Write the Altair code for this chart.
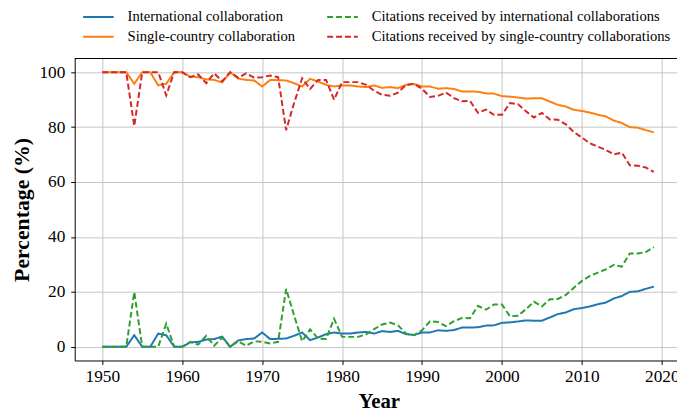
import altair as alt
import pandas as pd

years = list(range(1950, 2020))

international = [0, 0, 0, 0, 4.2, 0, 0, 4.8, 4.2, 0,
                 0, 1.6, 1.8, 2.6, 2.8, 3.7, 0, 2.3, 2.8, 3.0,
                 5.2, 2.8, 2.9, 3.0, 4.0, 5.2, 2.4, 3.4, 4.6, 5.2,
                 4.8, 4.8, 5.2, 5.4, 4.8, 5.7, 5.4, 5.8, 4.6, 4.3,
                 5.2, 5.2, 6.0, 5.8, 6.1, 7.0, 7.0, 7.1, 7.7, 7.8,
                 8.7, 8.9, 9.2, 9.6, 9.5, 9.5, 10.7, 11.9, 12.5, 13.7,
                 14.1, 14.7, 15.5, 16.1, 17.6, 18.5, 20.0, 20.2, 21.1, 21.9]

single = [100, 100, 100, 100, 95.8, 100, 100, 95.2, 95.8, 100,
          100, 98.4, 98.2, 97.4, 97.2, 96.3, 100, 97.7, 97.2, 97.0,
          94.8, 97.2, 97.1, 97.0, 96.0, 94.8, 97.6, 96.6, 95.4, 94.8,
          95.2, 95.2, 94.8, 94.6, 95.2, 94.3, 94.6, 94.2, 95.4, 95.7,
          94.8, 94.8, 94.0, 94.2, 93.9, 93.0, 93.0, 92.9, 92.3, 92.2,
          91.3, 91.1, 90.8, 90.4, 90.5, 90.5, 89.3, 88.1, 87.5, 86.3,
          85.9, 85.3, 84.5, 83.9, 82.4, 81.5, 80.0, 79.8, 78.9, 78.1]

cit_international = [0, 0, 0, 0, 19.9, 0, 0, 0, 8.4, 0,
                     0, 1.8, 0.8, 4.0, 0.4, 3.3, 0, 2.0, 0.4, 2.0,
                     1.8, 1.2, 1.8, 21.1, 11.4, 2.0, 6.3, 3.0, 2.8, 10.2,
                     3.6, 3.6, 3.6, 4.5, 6.4, 8.1, 8.8, 7.8, 4.8, 4.2,
                     6.0, 9.3, 9.0, 7.5, 9.3, 10.5, 10.4, 14.9, 13.5, 15.4,
                     15.4, 11.1, 11.3, 13.7, 16.4, 14.7, 17.3, 17.4, 18.9, 21.5,
                     24.0, 25.8, 27.0, 28.2, 29.8, 29.2, 34.0, 34.0, 34.5, 36.3]

cit_single = [100, 100, 100, 100, 80.4, 100, 100, 100, 91.6, 100,
              100, 98.2, 99.2, 96.0, 99.6, 96.7, 100, 98.0, 99.6, 98.0,
              98.2, 98.8, 98.2, 78.9, 88.8, 97.8, 93.9, 97.2, 97.2, 90.0,
              96.4, 96.4, 96.4, 95.4, 93.3, 91.8, 91.4, 92.6, 95.4, 95.8,
              94.0, 91.0, 91.4, 92.6, 90.6, 89.4, 89.6, 85.2, 86.4, 84.5,
              84.5, 88.8, 88.4, 85.8, 83.5, 85.2, 82.8, 82.7, 81.0, 78.2,
              76.2, 74.1, 72.9, 71.7, 70.1, 70.7, 66.1, 65.9, 65.3, 63.7]

names = ["International collaboration",
         "Single-country collaboration",
         "Citations received by international collaborations",
         "Citations received by single-country collaborations"]
series_values = [international, single, cit_international, cit_single]

colors = ["#1f77b4", "#ff7f0e", "#2ca02c", "#d62728"]
dashes = [[1, 0], [1, 0], [6, 3], [6, 3]]
widths = [2, 2, 1.5, 1.5]

rows = []
for nm, vals in zip(names, series_values):
    for yr, v in zip(years, vals):
        rows.append({"year": yr, "value": v, "series": nm})
df = pd.DataFrame(rows)

FONT = "Liberation Serif"
W = 609.5
H = 305.6

x_ticks = [1950, 1960, 1970, 1980, 1990, 2000, 2010, 2020]
y_ticks = [0, 20, 40, 60, 80, 100]

lines = alt.Chart(df).mark_line().encode(
    x=alt.X("year:Q",
            scale=alt.Scale(domain=[1946.55, 2021.9], nice=False, zero=False),
            axis=alt.Axis(values=x_ticks, format="d", title="Year",
                          titleX=W / 2 + 3, titleY=48,
                          titleBaseline="alphabetic",
                          titleFontSize=21, labelPadding=3.5)),
    y=alt.Y("value:Q",
            scale=alt.Scale(domain=[-5, 105], nice=False, zero=False),
            axis=alt.Axis(values=y_ticks, title="Percentage (%)",
                          titleX=-53.5, titleY=H / 2, titleAngle=270,
                          titleAlign="center", titleBaseline="middle",
                          titleFontSize=22, labelPadding=6)),
    color=alt.Color("series:N",
                    scale=alt.Scale(domain=names, range=colors),
                    legend=alt.Legend(orient="none", legendX=13, legendY=-53,
                                      columns=2, title=None, gridAlign="each",
                                      labelFont=FONT, labelFontSize=14.8,
                                      labelColor="black", labelLimit=600,
                                      symbolType="M-1.55,0H1.55", symbolSize=400,
                                      symbolStrokeWidth=2, labelOffset=18.5,
                                      columnPadding=27, rowPadding=2,
                                      padding=0)),
    strokeDash=alt.StrokeDash("series:N",
                              scale=alt.Scale(domain=names, range=dashes)),
    strokeWidth=alt.StrokeWidth("series:N",
                                scale=alt.Scale(domain=names, range=widths),
                                legend=None),
    order=alt.Order("year:Q"),
)

top_spine = alt.Chart(alt.Data(values=[{}])).mark_rule(
    color="black", strokeWidth=1
).encode(x=alt.value(0), x2=alt.value(W), y=alt.value(0))

chart = alt.layer(lines, top_spine).properties(
    width=W, height=H,
    autosize=alt.AutoSizeParams(type="none"),
    padding={"left": 67.5, "top": 48.7, "right": 0, "bottom": 48.7},
).configure_view(stroke=None).configure_axis(
    labelFont=FONT, labelFontSize=17.5, labelColor="black",
    titleFont=FONT, titleFontWeight="bold", titleColor="black",
    grid=True, gridColor="#c4c4c4", gridWidth=1,
    domainColor="black", domainWidth=1,
    tickColor="black", tickWidth=1, tickSize=4,
)

chart.save("out.html", embed_options={"renderer": "svg", "actions": False})
